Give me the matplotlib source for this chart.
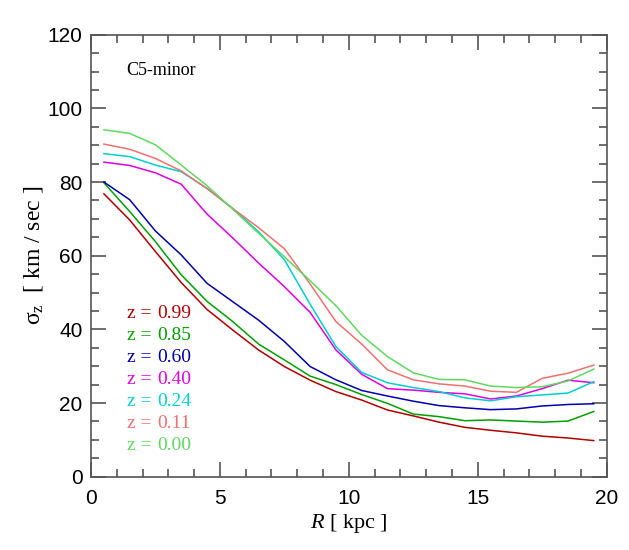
import numpy as np
import matplotlib as mpl
mpl.use('Agg')
import matplotlib.pyplot as plt
from matplotlib.ticker import MultipleLocator

# radius bins (kpc)
R = [0.5, 1.5, 2.5, 3.5, 4.5, 5.5, 6.5, 7.5, 8.5, 9.5,
     10.5, 11.5, 12.5, 13.5, 14.5, 15.5, 16.5, 17.5, 18.5, 19.5]

sig_099 = [76.8, 69.7, 61.1, 52.7, 45.4, 39.8, 34.4, 29.9, 26.2, 23.1,
           20.8, 18.1, 16.5, 14.8, 13.4, 12.6, 11.9, 11.0, 10.5, 9.8]
sig_085 = [79.8, 72.0, 63.8, 54.8, 47.6, 42.1, 36.0, 31.7, 27.3, 25.0,
           22.3, 19.9, 17.0, 16.3, 15.2, 15.4, 15.1, 14.8, 15.1, 17.7]
sig_060 = [80.0, 75.2, 66.7, 60.2, 52.5, 47.5, 42.5, 36.7, 29.9, 26.3,
           23.4, 21.9, 20.5, 19.3, 18.7, 18.2, 18.4, 19.2, 19.6, 19.8]
sig_040 = [85.4, 84.5, 82.5, 79.4, 71.3, 64.8, 58.0, 51.6, 44.6, 34.4,
           27.8, 23.9, 23.5, 22.9, 22.5, 21.1, 21.9, 23.9, 26.2, 25.5]
sig_024 = [87.7, 86.9, 84.6, 82.8, 78.3, 72.8, 66.5, 58.9, 46.8, 35.3,
           28.3, 25.5, 24.2, 23.1, 21.4, 20.6, 21.7, 22.2, 22.7, 25.8]
sig_011 = [90.3, 88.9, 86.4, 83.0, 78.2, 72.8, 67.6, 61.9, 52.3, 42.1,
           36.0, 29.0, 26.3, 25.2, 24.6, 23.2, 22.9, 26.7, 28.1, 30.3]
sig_000 = [94.2, 93.2, 90.1, 84.6, 79.0, 72.6, 66.1, 59.7, 53.2, 46.4,
           38.4, 32.6, 28.2, 26.4, 26.3, 24.6, 24.2, 24.4, 26.0, 29.2]

z_labels = ['0.99', '0.85', '0.60', '0.40', '0.24', '0.11', '0.00']
series = [sig_099, sig_085, sig_060, sig_040, sig_024, sig_011, sig_000]
colors = ['#b00000', '#00a000', '#0000b0', '#e000e0', '#00d0d0', '#f07070', '#60d860']

serif = 'Liberation Serif'
axcol = '#555555'

plt.rcParams['mathtext.fontset'] = 'custom'
plt.rcParams['mathtext.rm'] = 'Liberation Serif'
plt.rcParams['mathtext.it'] = 'Liberation Serif:italic'

fig = plt.figure(figsize=(6.29, 5.5), dpi=100)
ax = fig.add_axes([0.1447, 0.1333, 0.8198, 0.8036])

for s, c in zip(series, colors):
    ax.plot(R, s, color=c, lw=1.1)

ax.set_xlim(0, 20)
ax.set_ylim(0, 120)
ax.xaxis.set_major_locator(MultipleLocator(5))
ax.xaxis.set_minor_locator(MultipleLocator(1))
ax.yaxis.set_major_locator(MultipleLocator(20))
ax.yaxis.set_minor_locator(MultipleLocator(5))
ax.tick_params(which='both', direction='in', top=True, right=True, color=axcol,
               width=1.2, labelsize=15)
ax.tick_params(which='major', length=11)
ax.tick_params(which='minor', length=5.5)
ax.tick_params(axis='x', which='major', pad=9)
ax.tick_params(axis='y', which='major', pad=6)
for lab in ax.get_xticklabels() + ax.get_yticklabels():
    lab.set_fontfamily('Liberation Sans')
for sp in ax.spines.values():
    sp.set_color(axcol)
    sp.set_linewidth(1.2)

ax.set_xlabel(r'$R$ [ kpc ]', family=serif, fontsize=16, labelpad=3)
ax.set_ylabel(r'$\mathrm{\sigma}_{\mathrm{z}}$  [ km / sec ]', family=serif,
              fontsize=17, labelpad=2)

ax.text(0.068, 0.918, 'C5-minor', transform=ax.transAxes, family=serif,
        fontsize=13, va='center')

for i, (zl, c) in enumerate(zip(z_labels, colors)):
    yy = 0.3697 - i * 0.0498
    ax.text(0.069, yy, 'z =', transform=ax.transAxes, color=c, family=serif,
            fontsize=14, va='center')
    ax.text(0.129, yy, zl, transform=ax.transAxes, color=c, family=serif,
            fontsize=14, va='center')

fig.savefig('out.png', dpi=100)
